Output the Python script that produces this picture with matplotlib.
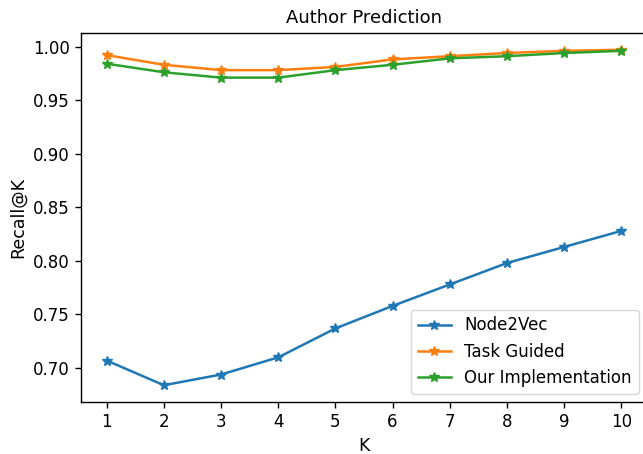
import matplotlib
matplotlib.use("Agg")
import matplotlib.pyplot as plt

k = [1, 2, 3, 4, 5, 6, 7, 8, 9, 10]
node2vec = [0.707, 0.684, 0.694, 0.710, 0.737, 0.758, 0.778, 0.798, 0.813, 0.828]
task_guided = [0.992, 0.983, 0.978, 0.978, 0.981, 0.988, 0.991, 0.994, 0.996, 0.997]
our_impl = [0.984, 0.976, 0.971, 0.971, 0.978, 0.983, 0.989, 0.991, 0.994, 0.996]

plt.rcParams['font.size'] = 12
fig = plt.figure(figsize=(6.43, 4.54), dpi=100)
ax = fig.add_axes([81 / 643, 1 - 402 / 454, (647 - 81) / 643, (402 - 33) / 454])
lw, ms = 1.8, 7.5
ax.plot(k, node2vec, marker='*', lw=lw, ms=ms, label='Node2Vec')
ax.plot(k, task_guided, marker='*', lw=lw, ms=ms, label='Task Guided')
ax.plot(k, our_impl, marker='*', lw=lw, ms=ms, label='Our Implementation')
ax.set_xticks(k)
ax.tick_params(labelsize=12, length=4.5, width=1.0)
for s in ax.spines.values():
    s.set_linewidth(1.0)
ax.set_xlabel('K', fontsize=12.5)
ax.set_ylabel('Recall@K', fontsize=12.5)
ax.set_title('Author Prediction', fontsize=13, pad=7)
ax.legend(loc='lower right', fontsize=12)
fig.savefig('out.png', dpi=100)
